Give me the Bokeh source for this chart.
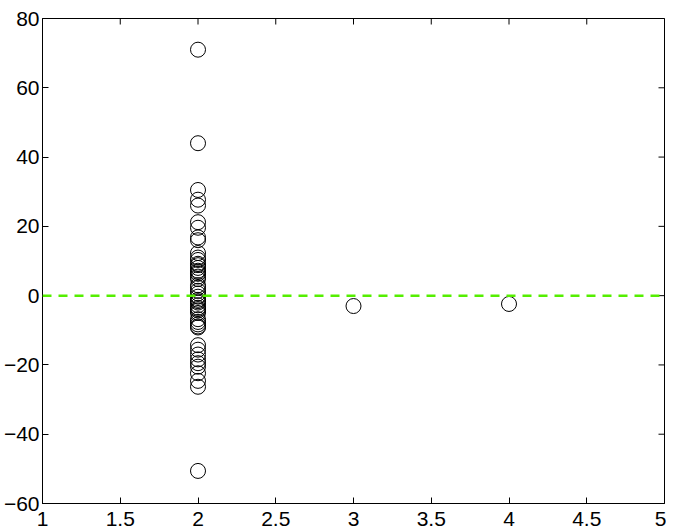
import math
from bokeh.plotting import figure
from bokeh.models import FixedTicker, LinearAxis, Range1d, Span
from bokeh.embed import file_html
from bokeh.resources import INLINE

# data
group_x = [2] * 48 + [3, 4]
residuals = [71.0, 44.0, 30.5, 27.7, 26.0, 21.2, 19.6, 16.8, 16.0, 12.3,
             10.3, 9.2, 8.0, 7.2, 6.3, 5.5, 4.8, 2.3, 1.4, 0.6,
             -0.3, -1.2, -2.0, -2.8, -3.5, -4.3, -5.0, -6.8, -7.6, -8.3,
             -9.2, -14.3, -15.6, -17.0, -18.4, -19.5, -22.4, -24.6, -26.3, -50.6,
             3.0, -1.6, 8.8, -8.9, 6.8, -3.9, 11.0, -20.5,
             -3.0, -2.4]
x_ticks = [1, 1.5, 2, 2.5, 3, 3.5, 4, 4.5, 5]
y_ticks = [-60, -40, -20, 0, 20, 40, 60, 80]
ref_level = 0

FONT = "Liberation Sans"
X_MIN, X_MAX, Y_MIN, Y_MAX = 1, 5, -60, 80

p = figure(width=666, height=532, output_backend="svg", toolbar_location=None,
           x_range=Range1d(X_MIN, X_MAX), y_range=Range1d(Y_MIN, Y_MAX),
           min_border_left=42, min_border_right=2, min_border_top=18,
           min_border_bottom=29, x_axis_location=None, y_axis_location=None)
p.grid.visible = False
p.outline_line_color = "black"
p.outline_line_width = 1

def fmt(v):
    return ("%g" % v).replace("-", "\u2212")

def make_axis(ticks, standoff):
    ax = LinearAxis(ticker=FixedTicker(ticks=ticks))
    ax.major_tick_in = 6
    ax.major_tick_out = 0
    ax.minor_tick_line_color = None
    ax.axis_line_color = "black"
    ax.major_tick_line_color = "black"
    ax.major_label_text_font = FONT
    ax.major_label_text_font_size = "21px"
    ax.major_label_text_color = "black"
    ax.major_label_standoff = standoff
    ax.major_label_overrides = {t: fmt(t) for t in ticks}
    return ax

p.add_layout(make_axis(y_ticks, 3), "left")
p.add_layout(make_axis(x_ticks, 8), "below")

# mirrored inward ticks on the right and top edges (half of each dash is clipped)
p.scatter([X_MAX] * len(y_ticks), y_ticks, marker="dash", size=12,
          line_color="black", line_width=1)
p.scatter(x_ticks, [Y_MAX] * len(x_ticks), marker="dash", size=12,
          angle=math.pi / 2, line_color="black", line_width=1)

p.scatter(group_x, residuals, size=15, marker="circle", fill_color=None,
          line_color="black", line_width=1)

p.add_layout(Span(location=ref_level, dimension="width", line_color="#55EE00",
                  line_width=2.5, line_dash="9 7"))

open("out.html", "w").write(file_html(p, INLINE))
